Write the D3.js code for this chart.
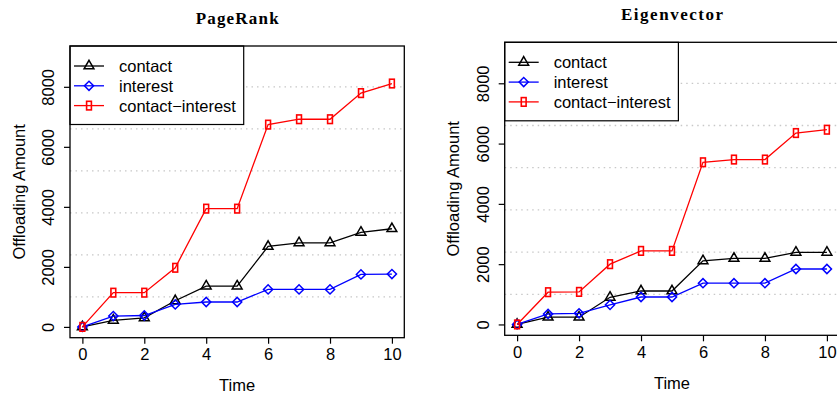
<!DOCTYPE html>
<html>
<head>
<meta charset="utf-8">
<script src="https://cdn.jsdelivr.net/npm/d3@7"></script>
<style>
  body { margin: 0; background: #fff; }
  svg { display: block; }
  text { font-family: "Liberation Sans", Arial, sans-serif; fill: #000; }
</style>
</head>
<body>
<div id="chart"></div>
<script>
  // chart data
  var times = [0, 1, 2, 3, 4, 5, 6, 7, 8, 9, 10];
  var seriesNames = ["contact", "interest", "contact\u2212interest"];

  var pagerankContact = [0, 220, 300, 870, 1360, 1360, 2680, 2800, 2800, 3150, 3270];
  var pagerankInterest = [0, 360, 380, 750, 830, 830, 1250, 1250, 1250, 1750, 1760];
  var pagerankContactInterest = [0, 1140, 1140, 1970, 3940, 3940, 6740, 6920, 6920, 7790, 8110];

  var eigenContact = [0, 240, 240, 900, 1110, 1110, 2110, 2190, 2190, 2390, 2390];
  var eigenInterest = [0, 350, 370, 650, 910, 910, 1370, 1370, 1370, 1840, 1840];
  var eigenContactInterest = [0, 1070, 1080, 2000, 2440, 2440, 5380, 5470, 5470, 6350, 6460];

  var xTicks = [0, 2, 4, 6, 8, 10];
  var yTicks = [0, 2000, 4000, 6000, 8000];
  var gridValues = [1000, 2400, 3800, 5200, 6600, 8000];

  var svgWidth = 837;
  var svgHeight = 394;

  var colors = ["#000000", "#0000ff", "#ff0000"];
  var markers = ["triangle", "diamond", "rect"];

  var svg = d3.select("#chart")
    .append("svg")
    .attr("width", svgWidth)
    .attr("height", svgHeight);

  var panels = [
    { title: "PageRank", titleLen: 83, left: 70, top: 46, right: 404.3, bottom: 337.7,
      series: [pagerankContact, pagerankInterest, pagerankContactInterest] },
    { title: "Eigenvector", titleLen: 102, left: 504.7, top: 42.3, right: 839.3, bottom: 335.3,
      series: [eigenContact, eigenInterest, eigenContactInterest] }
  ];

  function drawMarker(g, type, x, y, color) {
    if (type === "triangle") {
      g.append("path")
        .attr("d", d3.symbol().type(d3.symbolTriangle).size(42)())
        .attr("transform", `translate(${x}, ${y})`)
        .attr("fill", "none").attr("stroke", color).attr("stroke-width", 1.5);
    } else if (type === "diamond") {
      g.append("path")
        .attr("d", d3.symbol().type(d3.symbolSquare).size(42)())
        .attr("transform", `translate(${x}, ${y}) rotate(45)`)
        .attr("fill", "none").attr("stroke", color).attr("stroke-width", 1.5);
    } else {
      g.append("rect")
        .attr("x", x - 2.4).attr("y", y - 4.3)
        .attr("width", 4.8).attr("height", 8.6)
        .attr("fill", "none").attr("stroke", color).attr("stroke-width", 1.6);
    }
  }

  panels.forEach(function(p) {
    var x = d3.scaleLinear().domain([-0.4, 10.4]).range([p.left, p.right]);
    var y = d3.scaleLinear().domain([-360, 9360]).range([p.bottom, p.top]);
    var cx = (p.left + p.right) / 2;
    var cy = (p.top + p.bottom) / 2;

    var g = svg.append("g");

    // title
    g.append("text")
      .attr("x", cx)
      .attr("y", p.top - 22)
      .attr("text-anchor", "middle")
      .attr("textLength", p.titleLen)
      .attr("lengthAdjust", "spacing")
      .style("font-family", "'Liberation Serif', 'DejaVu Serif', serif")
      .style("font-weight", "bold")
      .style("font-size", "17px")
      .text(p.title);

    // dotted grid
    g.selectAll(".grid")
      .data(gridValues)
      .enter()
      .append("line")
      .attr("x1", p.left).attr("x2", p.right)
      .attr("y1", d => y(d)).attr("y2", d => y(d))
      .attr("stroke", "#c8c8c8")
      .attr("stroke-width", 1.3)
      .attr("stroke-dasharray", "1.5,4");

    // series lines and markers
    p.series.forEach(function(vals, i) {
      var line = d3.line()
        .x((d, j) => x(times[j]))
        .y(d => y(d));
      g.append("path")
        .datum(vals)
        .attr("d", line)
        .attr("fill", "none")
        .attr("stroke", colors[i])
        .attr("stroke-width", 1.3);
      vals.forEach(function(v, j) {
        drawMarker(g, markers[i], x(times[j]), y(v), colors[i]);
      });
    });

    // legend (top left, white background)
    var lg = g.append("g");
    lg.append("rect")
      .attr("x", p.left).attr("y", p.top)
      .attr("width", 173.7).attr("height", 78.5)
      .attr("fill", "#fff").attr("stroke", "#000").attr("stroke-width", 1.2);
    seriesNames.forEach(function(name, i) {
      var ly = p.top + 20 + i * 19.8;
      lg.append("line")
        .attr("x1", p.left + 4).attr("x2", p.left + 34)
        .attr("y1", ly).attr("y2", ly)
        .attr("stroke", colors[i]).attr("stroke-width", 1.3);
      drawMarker(lg, markers[i], p.left + 19, ly, colors[i]);
      lg.append("text")
        .attr("x", p.left + 49)
        .attr("y", ly + 6)
        .style("font-size", "16.5px")
        .text(name);
    });

    // box
    g.append("rect")
      .attr("x", p.left).attr("y", p.top)
      .attr("width", p.right - p.left).attr("height", p.bottom - p.top)
      .attr("fill", "none").attr("stroke", "#000").attr("stroke-width", 1.3);

    // axes
    var bottomAxis = d3.axisBottom(x).tickValues(xTicks).tickSize(6).tickPadding(5).tickFormat(d3.format("d"));
    var xg = g.append("g")
      .attr("transform", `translate(0, ${p.bottom})`)
      .call(bottomAxis);
    xg.select(".domain").remove();
    xg.selectAll("line").attr("stroke", "#000").attr("stroke-width", 1.2);
    xg.selectAll("text").style("font-size", "16.5px")
      .style("font-family", "'Liberation Sans', Arial, sans-serif");

    var leftAxis = d3.axisLeft(y).tickValues(yTicks).tickSize(6).tickFormat(d3.format("d"));
    var yg = g.append("g")
      .attr("transform", `translate(${p.left}, 0)`)
      .call(leftAxis);
    yg.select(".domain").remove();
    yg.selectAll("line").attr("stroke", "#000").attr("stroke-width", 1.2);
    yg.selectAll("text")
      .attr("x", null).attr("dy", null)
      .attr("text-anchor", "middle")
      .attr("transform", "translate(-16, 0) rotate(-90)")
      .attr("y", 0)
      .style("font-size", "16.5px")
      .style("font-family", "'Liberation Sans', Arial, sans-serif");

    // axis labels
    g.append("text")
      .attr("transform", `translate(${p.left - 45.5}, ${cy}) rotate(-90)`)
      .attr("text-anchor", "middle")
      .style("font-size", "16.5px")
      .text("Offloading Amount");

    g.append("text")
      .attr("x", cx)
      .attr("y", p.bottom + 53.5)
      .attr("text-anchor", "middle")
      .style("font-size", "16.5px")
      .text("Time");
  });
</script>
</body>
</html>
